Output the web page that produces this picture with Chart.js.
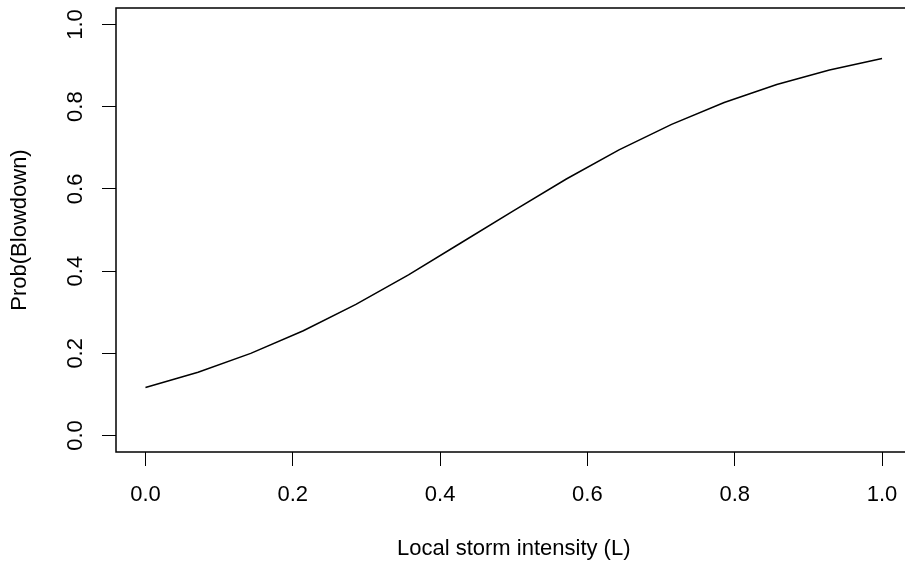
<!DOCTYPE html>
<html>
<head>
<meta charset="utf-8">
<script src="https://cdn.jsdelivr.net/npm/chart.js@4"></script>
<style>
html,body{margin:0;padding:0;background:#fff;overflow:hidden;width:905px;height:567px;}
canvas{display:block;}
</style>
</head>
<body>
<canvas id="c" width="920" height="567"></canvas>
<script>
// Data
const intensity = [0, 0.0714, 0.1429, 0.2143, 0.2857, 0.3571, 0.4286, 0.5, 0.5714, 0.6429, 0.7143, 0.7857, 0.8571, 0.9286, 1.0];
const probBlowdown = [0.117, 0.154, 0.200, 0.255, 0.319, 0.391, 0.469, 0.547, 0.624, 0.695, 0.757, 0.810, 0.854, 0.889, 0.917];
const xTickValues = [0, 0.2, 0.4, 0.6, 0.8, 1.0];
const yTickValues = [0, 0.2, 0.4, 0.6, 0.8, 1.0];
const xTitle = "Local storm intensity (L)";
const yTitle = "Prob(Blowdown)";

const FONT = '"Liberation Sans", Arial, Helvetica, sans-serif';
const FSIZE = 22;

const points = intensity.map((x, i) => ({x: x, y: probBlowdown[i]}));

const rPlot = {
  id: 'rPlot',
  afterDraw(chart) {
    const ctx = chart.ctx;
    const a = chart.chartArea;
    const ys = chart.scales.y;
    ctx.save();
    // box
    ctx.strokeStyle = '#000';
    ctx.lineWidth = 1.5;
    ctx.strokeRect(a.left, a.top, a.right - a.left, a.bottom - a.top);
    // y tick labels (rotated, parallel to axis)
    ctx.fillStyle = '#000';
    ctx.font = FSIZE + 'px ' + FONT;
    ctx.textAlign = 'center';
    ctx.textBaseline = 'middle';
    yTickValues.forEach(v => {
      const py = ys.getPixelForValue(v);
      ctx.save();
      ctx.translate(75.5, py);
      ctx.rotate(-Math.PI / 2);
      ctx.fillText(v.toFixed(1), 0, 0);
      ctx.restore();
    });
    // y title
    ctx.save();
    ctx.translate(20, (a.top + a.bottom) / 2);
    ctx.rotate(-Math.PI / 2);
    ctx.fillText(yTitle, 0, 0);
    ctx.restore();
    // x title
    ctx.fillText(xTitle, (a.left + a.right) / 2, 549);
    ctx.restore();
  }
};

new Chart(document.getElementById('c'), {
  type: 'line',
  data: {
    datasets: [{
      data: points,
      borderColor: '#000',
      borderWidth: 1.5,
      pointRadius: 0,
      tension: 0,
      fill: false
    }]
  },
  options: {
    responsive: false,
    animation: false,
    layout: {padding: {top: 8, right: 8.5, left: 0, bottom: 0}},
    plugins: {legend: {display: false}, tooltip: {enabled: false}},
    scales: {
      x: {
        type: 'linear',
        min: -0.04,
        max: 1.04,
        afterBuildTicks: s => { s.ticks = xTickValues.map(v => ({value: v})); },
        afterFit: s => { s.height = 115; },
        border: {display: false},
        grid: {drawOnChartArea: false, drawTicks: true, tickLength: 14, color: '#000', lineWidth: 1},
        ticks: {
          color: '#000',
          font: {family: FONT, size: FSIZE},
          padding: 16,
          maxRotation: 0,
          callback: v => Number(v).toFixed(1)
        }
      },
      y: {
        type: 'linear',
        min: -0.04,
        max: 1.04,
        afterBuildTicks: s => { s.ticks = yTickValues.map(v => ({value: v})); },
        afterFit: s => { s.width = 116; },
        border: {display: false},
        grid: {drawOnChartArea: false, drawTicks: true, tickLength: 14, color: '#000', lineWidth: 1},
        ticks: {display: false}
      }
    }
  },
  plugins: [rPlot]
});
</script>
</body>
</html>
